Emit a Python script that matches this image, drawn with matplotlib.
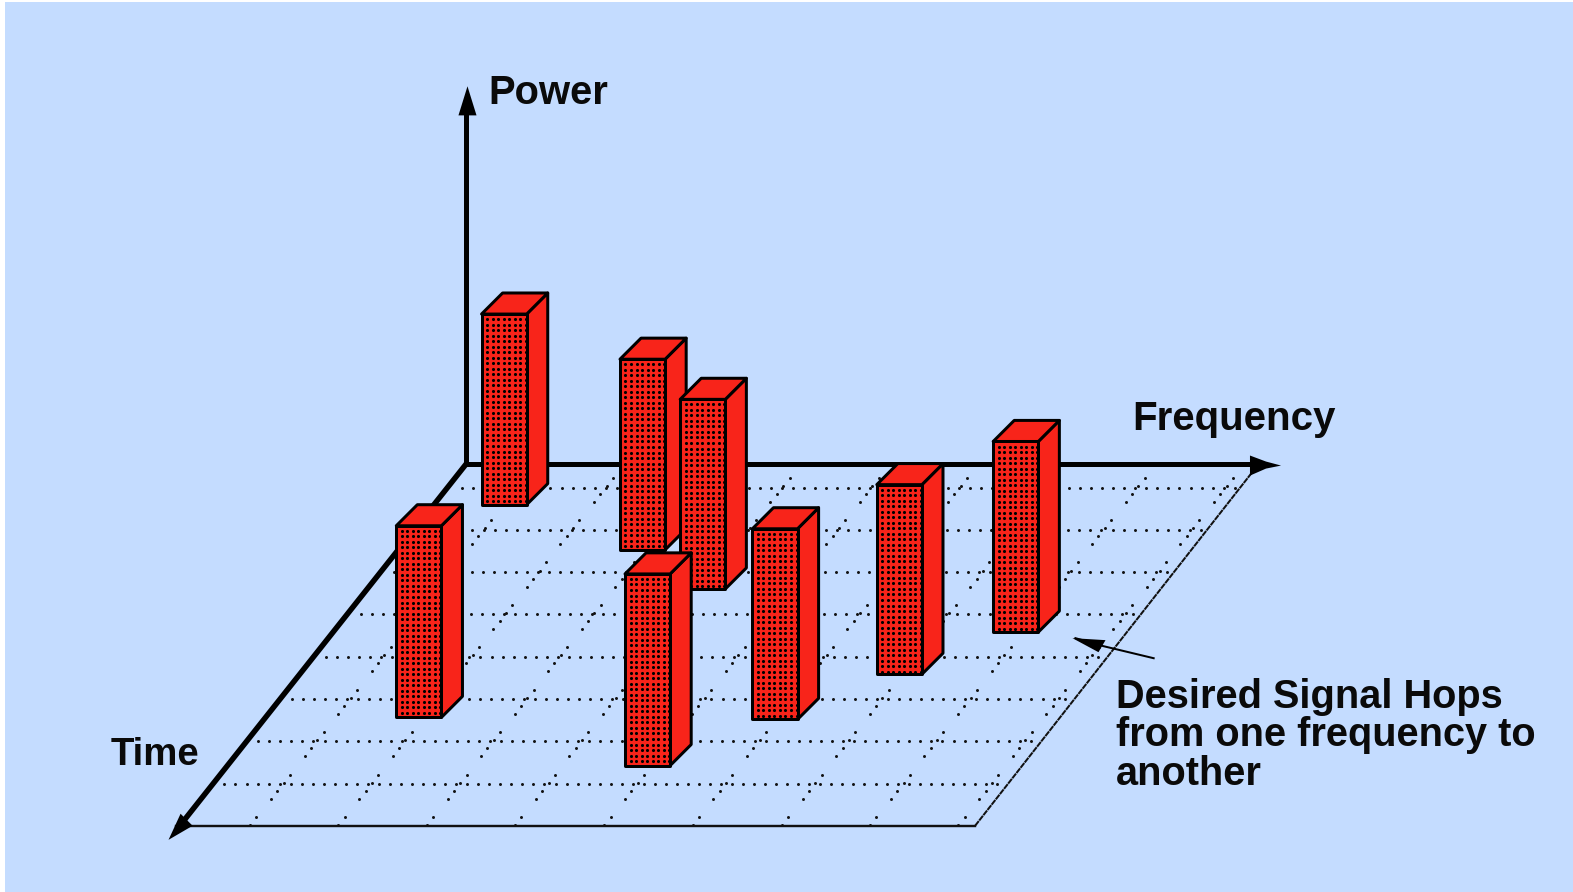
import numpy as np
import matplotlib
matplotlib.use("Agg")
import matplotlib.pyplot as plt
from matplotlib.patches import Rectangle, Polygon

W, H = 1573, 892
# picture units used for every coordinate below
UW, UH = 1568, 889
BG = "#c4dcff"
RED = "#f8241a"

# bars, in picture units, listed in drawing order
bar_left = [480, 618, 678, 395, 750, 874, 990, 623]
bar_top = [313, 358, 398, 524, 527, 483, 440, 572]
bar_bottom = [503, 548, 587, 715, 717, 672, 630, 763]

grid_rows = [486, 528, 570, 612, 655, 697, 739, 781]
grid_columns_top = [523, 611, 699, 787, 876, 964, 1053, 1141, 1229]
axis_labels = ["Power", "Frequency", "Time"]
note = ["Desired Signal Hops", "from one frequency to", "another"]

fig = plt.figure(figsize=(W / 100, H / 100), dpi=100, facecolor="white")
ax = fig.add_axes([0, 0, 1, 1])
ax.set_xlim(0, UW)
ax.set_ylim(UH, 0)
ax.axis("off")
PX = 0.72

ax.add_patch(Rectangle((5, 2), UW - 5, UH - 2, fc=BG, ec="none", zorder=0))

# floor geometry
BL, BR, FR, FL = (465, 462), (1255, 462), (972, 823), (175, 823)
slope = (BL[0] - FL[0]) / (FL[1] - BL[1])
DOT = dict(s=4.6, color="#111111", marker="o", lw=0, zorder=1)

# dotted floor grid
for y in grid_rows:
    xl = FL[0] + (823 - y) * slope + 15
    xr = FR[0] + (823 - y) * (BR[0] - FR[0]) / 361 - 1
    xs = np.arange(xl, xr, 11)
    ax.scatter(xs, np.full_like(xs, y), **DOT)
for x in grid_columns_top:
    ys = np.array([476 + 42.3 * k + d for k in range(9) for d in (0, 8, 16, 24)])
    ys = ys[ys < 824]
    ax.scatter(x - (ys - 476) * 0.79, ys, **DOT)

# floor outline
ax.plot([FL[0], FR[0]], [FL[1], FR[1]], color="#111111", lw=2.4 * PX, zorder=2)
ax.plot([FR[0], BR[0]], [FR[1], BR[1]], color="#111111", lw=2 * PX, zorder=2,
        linestyle=(0, (3, 0.35)))

# axes
ax.plot([465, 465], [462, 100], color="black", lw=5 * PX, zorder=3, solid_capstyle="butt")
ax.plot([465, 1250], [462, 462], color="black", lw=5 * PX, zorder=3, solid_capstyle="butt")
ax.plot([465, 180], [462, 822], color="black", lw=5.5 * PX, zorder=3, solid_capstyle="butt")
ax.add_patch(Polygon([(466, 86), (475, 115), (457, 115)], fc="black", ec="none", zorder=3))
ax.add_patch(Polygon([(1277, 464), (1262, 467), (1246, 474), (1246, 454), (1262, 460)],
                     fc="black", ec="none", zorder=3))
ax.add_patch(Polygon([(168, 837), (180, 811), (192, 823)], fc="black", ec="none", zorder=3))

# bars
DX, DY = 21, 21
BAR_W = 45
for i, (x, t, b) in enumerate(zip(bar_left, bar_top, bar_bottom)):
    z = 4 + i * 0.01
    r = x + BAR_W
    kw = dict(fc=RED, ec="black", lw=3 * PX, joinstyle="round", zorder=z)
    ax.add_patch(Polygon([(r, t), (r + DX, t - DY), (r + DX, b - DY), (r, b)], **kw))
    ax.add_patch(Polygon([(x, t), (x + DX, t - DY), (r + DX, t - DY), (r, t)], **kw))
    ax.add_patch(Rectangle((x, t), BAR_W, b - t, **kw))
    gx, gy = np.meshgrid(np.arange(x + 5.5, r, 5.5), np.arange(t + 5, b, 5.5))
    ax.scatter(gx.ravel(), gy.ravel(), s=5, marker="o", color="black", lw=0, zorder=z)

# note arrow
ax.plot([1150, 1125, 1100, 1072], [656, 650, 644, 636], color="black", lw=2 * PX, zorder=5)
ax.add_patch(Polygon([(1069, 636), (1102, 638), (1095, 650)], fc="black", ec="none", zorder=5))

# text
font = dict(family="Liberation Sans", weight="bold", color="#0a0a0a", zorder=6)
ax.text(487, 93, axis_labels[0], fontsize=28.8, va="center", ha="left", **font)
ax.text(1129, 418, axis_labels[1], fontsize=29, va="center", ha="left", **font)
ax.text(110, 752, axis_labels[2], fontsize=27.6, va="center", ha="left", **font)
for y, line in zip([695, 733, 771], note):
    ax.text(1112, y, line, fontsize=28.6, va="center", ha="left", **font)

fig.savefig("out.png", dpi=100, facecolor="white")
